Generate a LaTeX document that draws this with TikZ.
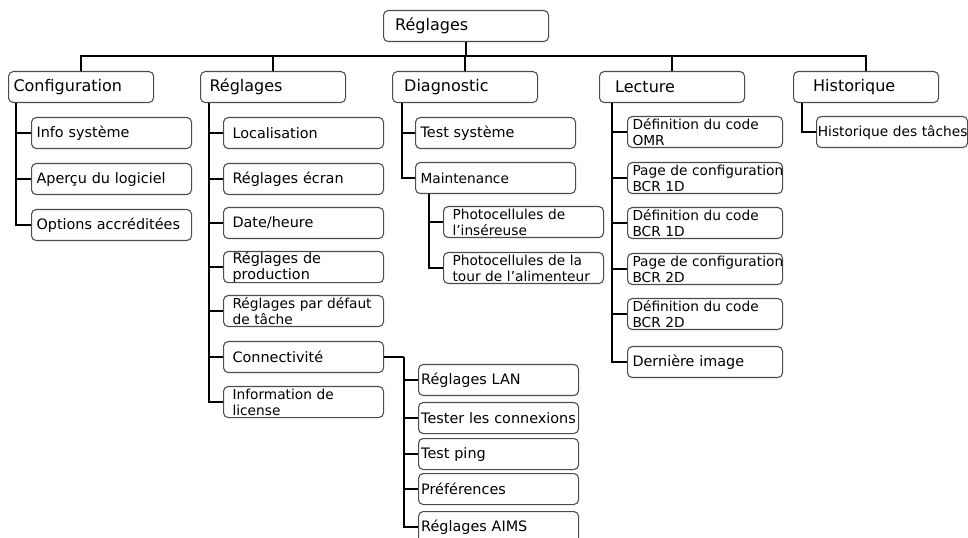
\documentclass[tikz,border=0pt]{standalone}
\usepackage{fontspec}
\setmainfont{DejaVu Sans}
\usepackage{tikz}
\usetikzlibrary{positioning}

\begin{document}
\begin{tikzpicture}[x=0.75pt,y=-0.75pt,
              box/.style={draw=black!70, line width=0.8pt, rounded corners=3.5pt, anchor=north west, align=left, inner ysep=0pt, minimum height=23.25pt},
              head/.style={box, inner xsep=6.75pt, text width=#1, font=\fontsize{12}{14}\selectfont},
              head/.default=95.25pt,
              leaf/.style={box, inner xsep=3.75pt, text width=#1, font=\fontsize{10.8}{12.5}\selectfont},
              leaf/.default=112.5pt,
              leafin/.style={box, inner xsep=6.75pt, text width=106.5pt, font=\fontsize{10.8}{12.5}\selectfont},
              leafout/.style={box, inner xsep=2pt, text width=116pt, font=\fontsize{10.8}{12.5}\selectfont},
              small/.style={font=\fontsize{10.3}{12}\selectfont},
              link/.style={line width=1.5pt, black},
             ]

\useasboundingbox (0,0) rectangle (968,538);

\node[head, text width=110.25pt] (root) at (383,10) {\hspace*{2pt}Réglages};

\node[head] (conf) at (8,71) {\hspace*{-3pt}Configuration};
\node[head] (regl) at (200,71) {Réglages};
\node[head] (diag) at (392,71) {\hspace*{2pt}Diagnostic};
\node[head] (lect) at (599,71) {\hspace*{5pt}Lecture};
\node[head] (hist) at (793,71) {\hspace*{8pt}Historique};

\node[leaf] (info) at (31,117) {Info système};
\node[leaf] (apercu) at (31,163) {Aperçu du logiciel};
\node[leaf] (options) at (31,209) {Options~accréditées};

\node[leafin] (loc) at (223,117) {Localisation};
\node[leafin] (ecran) at (223,163) {Réglages écran};
\node[leafin] (date) at (223,207) {Date/heure};
\node[leafin] (prod) at (223,251) {Réglages de\\production};
\node[leafin, small] (defaut) at (223,295) {\mbox{Réglages par défaut}\\de tâche};
\node[leafin] (connect) at (223,341) {Connectivité};
\node[leafin, small] (licence) at (223,386) {Information de\\license};

\node[leaf] (testsys) at (415,117) {Test système};
\node[leaf, small] (maint) at (415,162) {Maintenance};
\node[leafin, small] (photoA) at (443,206) {Photocellules de\\l’inséreuse};
\node[leafin, small] (photoB) at (443,252) {Photocellules de la\\\mbox{tour de l’alimenteur}};

\node[leafout] (lan) at (418,364) {Réglages LAN};
\node[leafout] (tester) at (418,402) {\mbox{Tester les connexions}};
\node[leafout] (ping) at (418,438) {Test ping};
\node[leafout] (pref) at (418,473) {Préférences};
\node[leafout] (aims) at (418,511) {Réglages AIMS};

\node[leaf=108.75pt, small] (omr) at (627,116) {\mbox{Définition du code}\\OMR};
\node[leaf=108.75pt, small] (pageA) at (627,162) {\mbox{Page de configuration}\\BCR 1D};
\node[leaf=108.75pt, small] (defA) at (627,207) {\mbox{Définition du code}\\BCR 1D};
\node[leaf=108.75pt, small] (pageB) at (627,253) {\mbox{Page de configuration}\\BCR 2D};
\node[leaf=108.75pt, small] (defB) at (627,298) {\mbox{Définition du code}\\BCR 2D};
\node[leaf=108.75pt] (last) at (627,346) {Dernière image};

\node[leaf=111.25pt, inner xsep=1pt, small] (taches) at (816,116) {\mbox{Historique des tâches}};

% tree lines
\foreach \hd in {conf,regl,diag,lect,hist} \draw[link] (\hd.north) -- ++(0,-15) -| (root.south);
\foreach \kid in {info,apercu,options} \draw[link] ([xshift=6pt]conf.south west) |- (\kid.west);
\foreach \kid in {loc,ecran,date,prod,defaut,connect,licence} \draw[link] ([xshift=6.75pt]regl.south west) |- (\kid.west);
\foreach \kid in {testsys,maint} \draw[link] ([xshift=7.5pt]diag.south west) |- (\kid.west);
\foreach \kid in {photoA,photoB} \draw[link] ([xshift=10.5pt]maint.south west) |- (\kid.west);
\draw[link] (connect.east) -- ++(20,0) coordinate (cnx);
\foreach \kid in {lan,tester,ping,pref,aims} \draw[link] (cnx) |- (\kid.west);
\foreach \kid in {omr,pageA,defA,pageB,defB,last} \draw[link] ([xshift=9.75pt]lect.south west) |- (\kid.west);
\draw[link] ([xshift=6.75pt]hist.south west) |- (taches.west);
\end{tikzpicture}
\end{document}
